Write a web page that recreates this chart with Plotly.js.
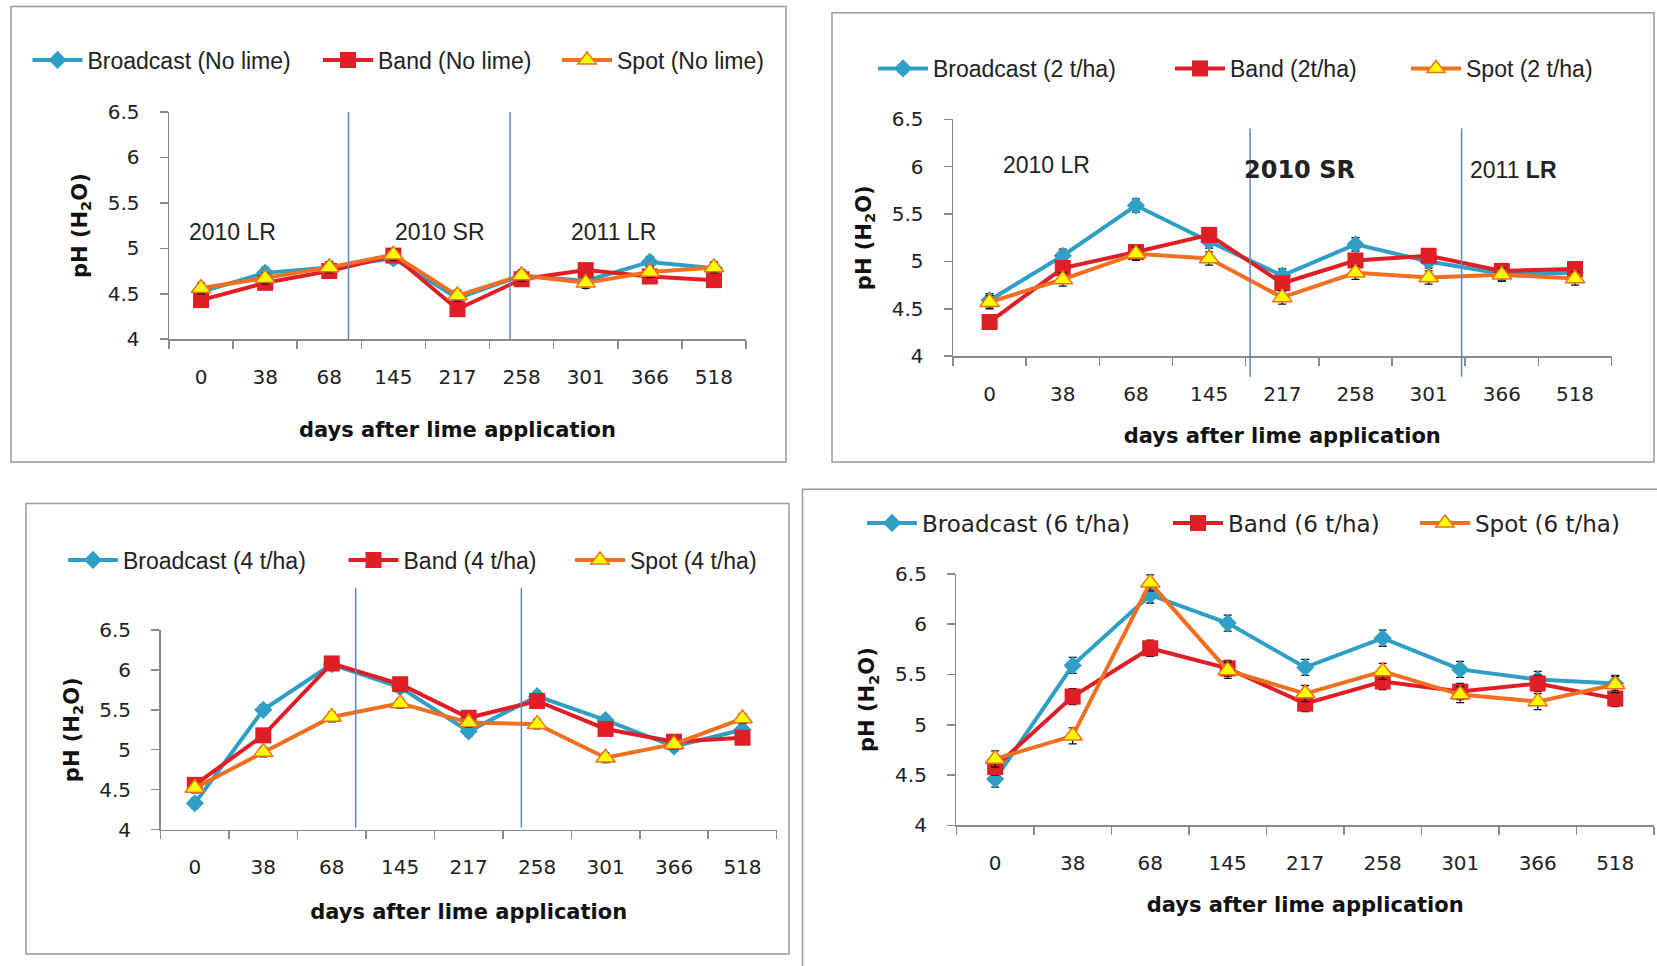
<!DOCTYPE html>
<html><head><meta charset="utf-8">
<script src="https://cdn.plot.ly/plotly-3.0.1.min.js"></script>
<style>html,body{margin:0;padding:0;background:#fff;}#chart{width:1657px;height:966px;}</style>
</head><body><div id="chart"></div>
<script>
// ---------------- data ----------------
const days = ['0','38','68','145','217','258','301','366','518'];

const names1 = ['Broadcast (No lime)','Band (No lime)','Spot (No lime)'];
const names2 = ['Broadcast (2 t/ha)','Band (2t/ha)','Spot (2 t/ha)'];
const names3 = ['Broadcast (4 t/ha)','Band (4 t/ha)','Spot (4 t/ha)'];
const names4 = ['Broadcast (6 t/ha)','Band (6 t/ha)','Spot (6 t/ha)'];

const p1Broadcast = [4.52,4.73,4.79,4.89,4.45,4.70,4.64,4.85,4.78];
const p1Band      = [4.43,4.62,4.75,4.92,4.33,4.66,4.76,4.69,4.65];
const p1Spot      = [4.56,4.67,4.79,4.93,4.48,4.70,4.62,4.74,4.79];

const p2Broadcast = [4.59,5.06,5.59,5.21,4.85,5.18,5.00,4.87,4.88];
const p2Band      = [4.36,4.93,5.10,5.28,4.77,5.01,5.06,4.90,4.92];
const p2Spot      = [4.57,4.81,5.08,5.03,4.62,4.88,4.83,4.86,4.82];

const p3Broadcast = [4.33,5.50,6.07,5.78,5.23,5.67,5.37,5.04,5.25];
const p3Band      = [4.56,5.18,6.08,5.82,5.40,5.61,5.26,5.10,5.15];
const p3Spot      = [4.52,4.97,5.41,5.58,5.34,5.32,4.90,5.07,5.39];

const p4Broadcast = [4.46,5.59,6.29,6.01,5.57,5.86,5.55,5.45,5.41];
const p4Band      = [4.58,5.28,5.76,5.56,5.21,5.43,5.33,5.41,5.26];
const p4Spot      = [4.66,4.89,6.41,5.54,5.31,5.53,5.30,5.23,5.40];

const errP1 = 0.06, errP2 = 0.07, errP3 = 0.06, errP4 = 0.08;

const seasonLabels1 = ['2010 LR','2010 SR','2011 LR'];
const seasonLabels2 = ['2010 LR','<b>2010 SR</b>','2011 <b>LR</b>'];
const seasonLabels3 = ['2010 LR','2010 SR','2011 LR'];

// ---------------- layout helpers ----------------
const W = 1657, H = 966;
const fx = p => p / W, fy = p => 1 - p / H;

const panels = [
  {vals:[p1Broadcast,p1Band,p1Spot], names:names1, err:errP1,
   xd:[169,746], yd:[112,339.2], box:[11,6.5,786,462],
   leg:{xs:[87.5,378,617], y:60, font:'Liberation Sans'},
   seps:[{x:2.3,y0:0,y1:1},{x:4.82,y0:0,y1:1}],
   notes:{t:seasonLabels1, x:[0.49,3.72,6.43], y:[5.175,5.175,5.175]},
   xstand:34},
  {vals:[p2Broadcast,p2Band,p2Spot], names:names2, err:errP2,
   xd:[953,1611.6], yd:[119.4,356.1], box:[832,12.7,1654,462],
   leg:{xs:[933,1230,1466], y:68.5, font:'Liberation Sans'},
   seps:[{x:3.56,y0:-0.087,y1:0.962},{x:6.45,y0:-0.087,y1:0.962}],
   notes:{t:seasonLabels2, x:[0.78,4.23,7.16], y:[6.02,5.97,5.97]},
   xstand:23},
  {vals:[p3Broadcast,p3Band,p3Spot], names:names3, err:errP3,
   xd:[160.6,776.7], yd:[629.9,829.6], box:[26,503.5,789,954],
   leg:{xs:[123,403.5,630], y:560, font:'Liberation Sans'},
   seps:[{x:2.35,y0:0.01,y1:1.212},{x:4.77,y0:0.01,y1:1.212}],
   notes:{t:seasonLabels3, x:[0.59,4.28,6.32], y:[6.58,6.58,6.58]},
   xstand:26},
  {vals:[p4Broadcast,p4Band,p4Spot], names:names4, err:errP4,
   xd:[956.4,1654], yd:[573.8,825.4], box:[802.5,489.3,1680,990],
   leg:{xs:[922,1228,1475], y:523, font:'DejaVu Sans'},
   seps:[], notes:{t:[],x:[],y:[]},
   xstand:23}
];

const BLUE = '#2E9FC5', RED = '#E01E26', ORANGE = '#F07020', YELLOW = '#FFFF00';
const seriesStyle = [
  {line:BLUE,   marker:{symbol:'diamond', size:14, color:BLUE}},
  {line:RED,    marker:{symbol:'square', size:16, color:RED}},
  {line:ORANGE, marker:{symbol:'triangle-up', size:17, color:YELLOW, line:{color:ORANGE, width:1.5}}}
];

const traces = [];
const layout = {
  width: W, height: H, margin:{l:0,r:0,t:0,b:0},
  paper_bgcolor:'#fff', plot_bgcolor:'rgba(0,0,0,0)',
  showlegend:true, shapes:[], annotations:[]
};

panels.forEach((p, k) => {
  const n = k + 1;
  const xs = n === 1 ? '' : String(n);
  const xa = 'xaxis' + xs, ya = 'yaxis' + xs;
  layout[xa] = {
    domain:[fx(p.xd[0]), fx(p.xd[1])], anchor:'y' + xs,
    type:'category', categoryorder:'array', categoryarray:days, range:[-0.5,8.5],
    showline:true, linecolor:'#8a8a8a', linewidth:1.5, showgrid:false, zeroline:false,
    ticks:'outside', tickson:'boundaries', ticklen:8, tickwidth:1.5, tickcolor:'#8a8a8a',
    tickfont:{family:'DejaVu Sans', size:20, color:'#222'}, ticklabelstandoff:19,
    title:{text:'<b>days after lime application</b>', font:{family:'DejaVu Sans', size:21, color:'#111'}, standoff:p.xstand},
    fixedrange:true
  };
  layout[ya] = {
    domain:[fy(p.yd[1]), fy(p.yd[0])], anchor:'x' + xs,
    range:[4,6.5], tick0:4, dtick:0.5,
    showline:true, linecolor:'#8a8a8a', linewidth:1.5, showgrid:false, zeroline:false,
    ticks:'outside', ticklen:8, tickwidth:1.5, tickcolor:'#8a8a8a',
    tickfont:{family:'DejaVu Sans', size:20, color:'#222'}, ticklabelstandoff:16,
    title:{text:'<b>pH (H<sub>2</sub>O)</b>', font:{family:'DejaVu Sans', size:21, color:'#111'}, standoff:14},
    fixedrange:true
  };
  // box
  layout.shapes.push({type:'rect', xref:'paper', yref:'paper', layer:'below',
    x0:fx(p.box[0]), x1:fx(p.box[2]), y0:fy(p.box[3]), y1:fy(p.box[1]),
    line:{color:'#9a9a9a', width:1.5}, fillcolor:'rgba(0,0,0,0)'});
  // season separators
  p.seps.forEach(s => layout.shapes.push({type:'line', xref:'x' + xs, yref:'y' + xs + ' domain',
    x0:s.x, x1:s.x, y0:s.y0, y1:s.y1, line:{color:'#5B87C5', width:1.5}}));
  // season labels
  p.notes.t.forEach((t, i) => {
    const big = (k === 1 && i === 1);
    layout.annotations.push({xref:'x' + xs, yref:'y' + xs, x:p.notes.x[i], y:p.notes.y[i],
      text:t, showarrow:false, xanchor:'center', yanchor:'middle',
      font:{family: big ? 'DejaVu Sans' : 'Liberation Sans', size: big ? 24 : 23, color:'#222'}});
  });
  // traces + legends
  p.vals.forEach((v, j) => {
    const idx = k * 3 + j + 1;
    const lg = 'legend' + (idx === 1 ? '' : idx);
    const st = seriesStyle[j];
    traces.push({
      type:'scatter', mode:'lines+markers', x:days, y:v, name:p.names[j],
      xaxis:'x' + xs, yaxis:'y' + xs, legend:lg, cliponaxis:false,
      line:{color:st.line, width:4}, marker:st.marker,
      error_y:{type:'constant', value:p.err, color:'#111', thickness:1.3, width:4}
    });
    layout[lg] = {
      x:fx(p.leg.xs[j] - 60), y:fy(p.leg.y), xanchor:'left', yanchor:'middle',
      orientation:'h', bgcolor:'rgba(0,0,0,0)', borderwidth:0, itemwidth:50,
      font:{family:p.leg.font, size:23, color:'#222'}
    };
  });
});

Plotly.newPlot('chart', traces, layout, {displayModeBar:false, staticPlot:true});
</script>
</body></html>
